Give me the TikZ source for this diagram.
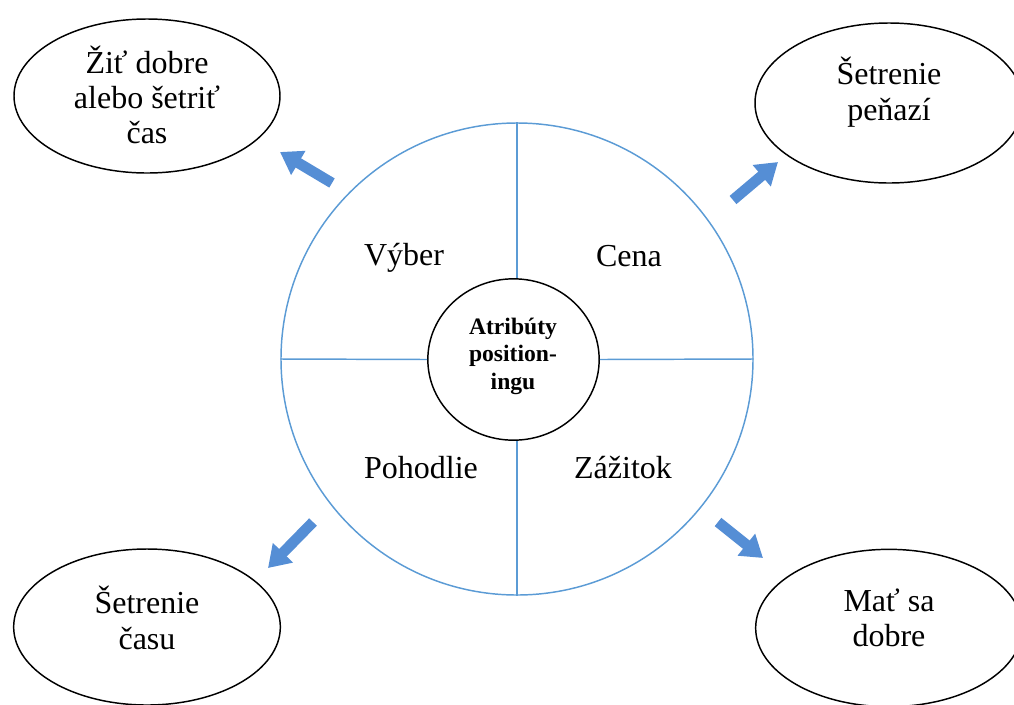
\documentclass[tikz,border=0pt]{standalone}
\usepackage{fontspec}
\setmainfont{Liberation Serif}
\usetikzlibrary{arrows.meta,shapes.geometric}
\definecolor{ringblue}{HTML}{5B9BD5}
\definecolor{arrowblue}{HTML}{558ED5}

\begin{document}
\begin{tikzpicture}[x=0.75pt,y=-0.75pt,
  outcome/.style={draw=black, line width=1.1pt, ellipse, inner sep=0pt,
                  minimum width=200pt, minimum height=117pt},
  bigtext/.style={font=\fontsize{24}{26.5}\selectfont, align=center, inner sep=0pt},
  coretext/.style={font=\fontsize{17.7}{20.6}\selectfont\bfseries, align=center, inner sep=0pt},
  ringline/.style={draw=ringblue, line width=1.1pt},
  bigarrow/.style={draw=arrowblue, line width=8pt,
                   -{Triangle[length=16pt,width=20pt,fill=arrowblue]}},
]
\useasboundingbox (0,0) rectangle (1014,704);
\clip (0,0) rectangle (1014,704);

% central ring and its core
\node (ring) [circle, ringline, inner sep=0pt, minimum size=354pt] at (517,359) {};
\node (core) [ellipse, draw=black, line width=1.1pt, inner sep=0pt,
              minimum width=128.5pt, minimum height=121pt] at (513.5,359.5) {};
\node (coretxt) [coretext] at (513,356) {Atribúty\\position-\\ingu};

% spokes dividing the ring into four quarters
\draw[ringline] (ring.north) -- (ring.north |- core.north);
\draw[ringline] (ring.south |- core.south) -- (ring.south);
\draw[ringline] (ring.west) -- (core.west);
\draw[ringline] (core.east) -- (ring.east);

% quarter labels
\node (vyber)   [bigtext] at (404,258) {Výber};
\node (cena)    [bigtext] at (629,256) {Cena};
\node (pohod)   [bigtext] at (421,468) {Pohodlie};
\node (zazitok) [bigtext] at (623,468) {Zážitok};

% outer goals
\node (tl) [outcome, minimum width=199.5pt, minimum height=115.5pt] at (147,96) {};
\node (tr) [outcome, minimum width=201pt, minimum height=120pt] at (889,103) {};
\node (bl) [outcome, minimum width=200pt, minimum height=117pt] at (147,627) {};
\node (br) [outcome, minimum width=200pt, minimum height=118pt] at (889,628) {};

\node (tltxt) [bigtext] at (147,95) {Žiť dobre\\alebo šetriť\\čas};
\node (trtxt) [bigtext] at (889,92) {Šetrenie\\peňazí};
\node (bltxt) [bigtext] at (147,618) {Šetrenie\\času};
\node (brtxt) [bigtext] at (889,618) {Mať sa\\dobre};

% arrows pointing from the ring toward the goals
\coordinate (tlA) at (332,183); \coordinate (tlB) at (280,152);
\coordinate (trA) at (733,200); \coordinate (trB) at (778,162);
\coordinate (blA) at (313,522); \coordinate (blB) at (268,568);
\coordinate (brA) at (718,522); \coordinate (brB) at (763,558);
\draw[bigarrow] (tlA) -- (tlB);
\draw[bigarrow] (trA) -- (trB);
\draw[bigarrow] (blA) -- (blB);
\draw[bigarrow] (brA) -- (brB);
\end{tikzpicture}
\end{document}
